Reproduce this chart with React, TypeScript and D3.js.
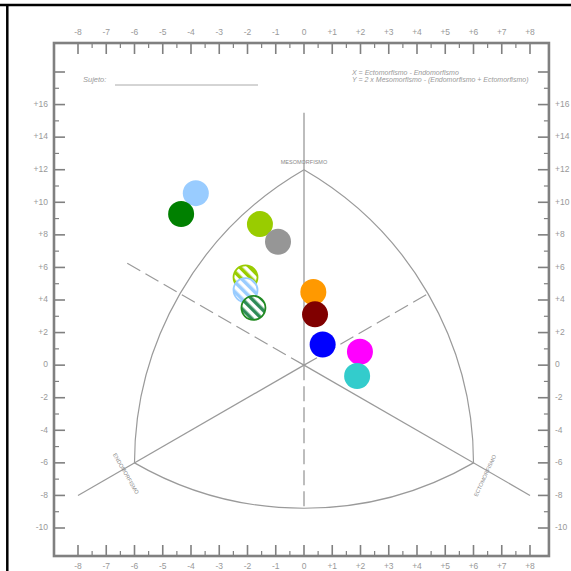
import React from "react";
import * as d3 from "d3";

// Axis ticks
const xTickValues = [-8, -7, -6, -5, -4, -3, -2, -1, 0, 1, 2, 3, 4, 5, 6, 7, 8];
const xMinorValues = [-7.5, -6.5, -5.5, -4.5, -3.5, -2.5, -1.5, -0.5, 0.5, 1.5, 2.5, 3.5, 4.5, 5.5, 6.5, 7.5];
const yMajorValues = [-10, -8, -6, -4, -2, 0, 2, 4, 6, 8, 10, 12, 14, 16, 18];
const yLabelValues = [-10, -8, -6, -4, -2, 0, 2, 4, 6, 8, 10, 12, 14, 16];
const yMinorValues = [-9, -7, -5, -3, -1, 1, 3, 5, 7, 9, 11, 13, 15, 17];

// Somatotype points (X = ecto - endo, Y = 2*meso - (endo+ecto))
const pointX = [-3.83, -4.35, -1.56, -0.92, -2.07, -2.07, -1.79, 0.33, 0.39, 0.66, 1.98, 1.88];
const pointY = [10.56, 9.28, 8.66, 7.58, 5.39, 4.61, 3.52, 4.49, 3.12, 1.27, 0.82, -0.67];
const pointColor = ["#99ccff", "#008000", "#99cc00", "#969696", "#99cc00", "#99ccff", "#2e8b57", "#ff9900", "#800000", "#0000ff", "#ff00ff", "#33cccc"];
const pointStroke = ["#99ccff", "#008000", "#99cc00", "#969696", "#99cc00", "#99ccff", "#228b22", "#ff9900", "#800000", "#0000ff", "#ff00ff", "#33cccc"];
const pointHatched = [false, false, false, false, true, true, true, false, false, false, false, false];

// Template vertices
const vertexNames = ["MESOMORFISMO", "ENDOMORFISMO", "ECTOMORFISMO"];
const vertexX = [0, -6, 6];
const vertexY = [12, -6, -6];

const fmt = (v: number) => (v > 0 ? "+" + v : String(v));

export default function App() {
  const x = d3.scaleLinear().domain([-8, 8]).range([78, 530]);
  const y = d3.scaleLinear().domain([-10, 18]).range([528, 72]);

  const fL = x(-8.85), fR = x(8.67), fT = y(19.78), fB = y(-11.72);
  const grid = "#9a9a9a";
  const frame = "#808080";
  const txt = "#999999";
  const font = "Liberation Sans, Arial, sans-serif";

  const M = [x(vertexX[0]), y(vertexY[0])];
  const N = [x(vertexX[1]), y(vertexY[1])];
  const E = [x(vertexX[2]), y(vertexY[2])];
  const R = Math.max(Math.hypot(E[0] - N[0], E[1] - N[1]), Math.hypot(E[0] - M[0], E[1] - M[1]), Math.hypot(N[0] - M[0], N[1] - M[1]));
  const arcPath = `M${M[0]},${M[1]} A${R},${R} 0 0 1 ${E[0]},${E[1]} A${R},${R} 0 0 1 ${N[0]},${N[1]} A${R},${R} 0 0 1 ${M[0]},${M[1]}`;
  const cx0 = x(0), cy0 = y(0);
  const bottomArcY = M[1] + R;

  const tickLen = 11, minorLen = 5;
  const fs = 8.5;

  return (
    <svg width={571} height={571} style={{ position: "absolute", left: 0, top: 0, background: "#fff" }}>
      <defs>
        {pointColor.map((c, i) =>
          pointHatched[i] ? (
            <pattern key={i} id={"hatch" + i} patternUnits="userSpaceOnUse" width={7} height={7} patternTransform="rotate(-45)">
              <rect x={0} y={0} width={7} height={7} fill="#fff" />
              <rect x={0} y={0} width={3.5} height={7} fill={c} />
            </pattern>
          ) : null
        )}
      </defs>
      {/* outer black border */}
      <line x1={0} x2={571} y1={5} y2={5} stroke="#000" strokeWidth={2.5} />
      <line x1={7.3} x2={7.3} y1={4} y2={571} stroke="#000" strokeWidth={2.5} />

      {/* frame */}
      <rect x={fL} y={fT} width={fR - fL} height={fB - fT} fill="none" stroke={frame} strokeWidth={2.6} />

      {/* x ticks */}
      {xTickValues.map((v) => (
        <g key={"xt" + v}>
          <line x1={x(v)} x2={x(v)} y1={fT} y2={fT + tickLen} stroke={frame} strokeWidth={1.6} />
          <line x1={x(v)} x2={x(v)} y1={fB} y2={fB - tickLen} stroke={frame} strokeWidth={1.6} />
          <text x={x(v)} y={33} fontSize={fs} fill={txt} fontFamily={font} textAnchor="middle" dominantBaseline="middle">{fmt(v)}</text>
          <text x={x(v)} y={567} fontSize={fs} fill={txt} fontFamily={font} textAnchor="middle" dominantBaseline="middle">{fmt(v)}</text>
        </g>
      ))}
      {xMinorValues.map((v) => (
        <g key={"xm" + v}>
          <line x1={x(v)} x2={x(v)} y1={fT} y2={fT + minorLen} stroke={frame} strokeWidth={1.2} />
          <line x1={x(v)} x2={x(v)} y1={fB} y2={fB - minorLen} stroke={frame} strokeWidth={1.2} />
        </g>
      ))}
      {/* y ticks */}
      {yMajorValues.map((v) => (
        <g key={"ym" + v}>
          <line x1={fL} x2={fL + tickLen} y1={y(v)} y2={y(v)} stroke={frame} strokeWidth={1.6} />
          <line x1={fR} x2={fR - tickLen} y1={y(v)} y2={y(v)} stroke={frame} strokeWidth={1.6} />
        </g>
      ))}
      {yMinorValues.map((v) => (
        <g key={"yn" + v}>
          <line x1={fL} x2={fL + minorLen} y1={y(v)} y2={y(v)} stroke={frame} strokeWidth={1.2} />
          <line x1={fR} x2={fR - minorLen} y1={y(v)} y2={y(v)} stroke={frame} strokeWidth={1.2} />
        </g>
      ))}
      {yLabelValues.map((v) => (
        <g key={"yl" + v}>
          <text x={48} y={y(v)} fontSize={fs} fill={txt} fontFamily={font} textAnchor="end" dominantBaseline="middle">{fmt(v)}</text>
          <text x={555} y={y(v)} fontSize={fs} fill={txt} fontFamily={font} textAnchor="start" dominantBaseline="middle">{fmt(v)}</text>
        </g>
      ))}

      {/* header texts */}
      <text x={83} y={82} fontSize={7.5} fill={txt} fontStyle="italic" fontFamily={font}>Sujeto:</text>
      <line x1={115} x2={258} y1={85} y2={85} stroke="#aaa" strokeWidth={1} />
      <text x={352} y={75} fontSize={7} fill={txt} fontStyle="italic" fontFamily={font}>X = Ectomorfismo - Endomorfismo</text>
      <text x={352} y={82} fontSize={7} fill={txt} fontStyle="italic" fontFamily={font}>Y = 2 x Mesomorfismo - (Endomorfismo + Ectomorfismo)</text>

      {/* template */}
      <path d={arcPath} fill="none" stroke={grid} strokeWidth={1.2} />
      <line x1={cx0} x2={cx0} y1={y(15.5)} y2={cy0} stroke={grid} strokeWidth={1.3} />
      <line x1={cx0} x2={cx0} y1={cy0} y2={bottomArcY} stroke={grid} strokeWidth={1.3} strokeDasharray="15,6" />
      <line x1={cx0} x2={x(-8)} y1={cy0} y2={y(-8)} stroke={grid} strokeWidth={1.2} />
      <line x1={cx0} x2={x(8)} y1={cy0} y2={y(-8)} stroke={grid} strokeWidth={1.2} />
      <line x1={cx0} x2={x(-6.4)} y1={cy0} y2={y(6.4)} stroke={grid} strokeWidth={1.2} strokeDasharray="15,6" />
      <line x1={cx0} x2={x(4.4)} y1={cy0} y2={y(4.4)} stroke={grid} strokeWidth={1.2} strokeDasharray="15,6" />

      <text x={M[0]} y={M[1] - 7} fontSize={5.5} fill="#888" fontFamily={font} textAnchor="middle" dominantBaseline="middle">{vertexNames[0]}</text>
      <text transform={`translate(${N[0] - 9},${N[1] + 11}) rotate(60)`} fontSize={5.5} fill="#888" fontFamily={font} textAnchor="middle" dominantBaseline="middle">{vertexNames[1]}</text>
      <text transform={`translate(${E[0] + 12},${E[1] + 13}) rotate(-65)`} fontSize={5.5} fill="#888" fontFamily={font} textAnchor="middle" dominantBaseline="middle">{vertexNames[2]}</text>

      {/* points */}
      {pointX.map((px, i) => (
        <circle
          key={"p" + i}
          cx={x(px)}
          cy={y(pointY[i])}
          r={pointHatched[i] ? 12 : 13}
          fill={pointHatched[i] ? `url(#hatch${i})` : pointColor[i]}
          stroke={pointStroke[i]}
          strokeWidth={pointHatched[i] ? 1.8 : 0}
        />
      ))}
    </svg>
  );
}
